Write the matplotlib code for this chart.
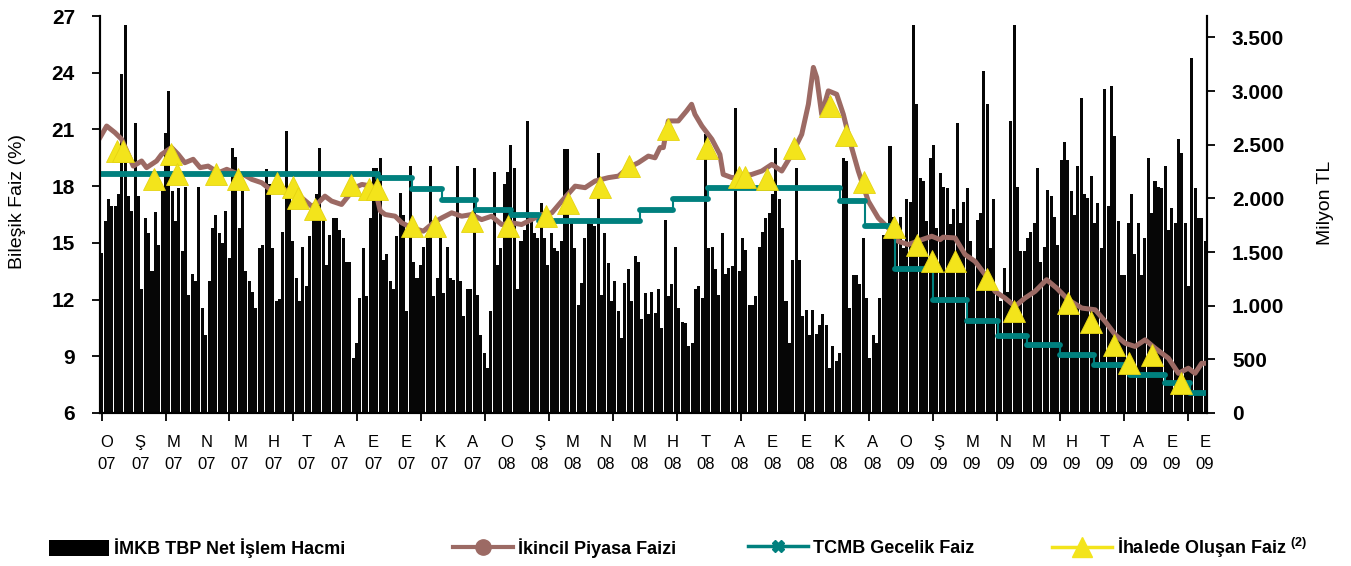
import numpy as np
import matplotlib
matplotlib.use('Agg')
from matplotlib import pyplot as plt
from matplotlib.lines import Line2D
from matplotlib.patches import Patch

FONT = ['Liberation Sans', 'DejaVu Sans']
plt.rcParams['font.family'] = FONT
plt.rcParams['mathtext.fontset'] = 'custom'
plt.rcParams['mathtext.rm'] = 'Liberation Sans:bold'

# x values are months counted from the start of January 2007
month_letters = ['O', 'Ş', 'M', 'N', 'M', 'H', 'T', 'A', 'E', 'E', 'K', 'A']
years = ['07', '08', '09']
n_month_labels = 34

# IMKB TBP net trading volume (million TL), read left to right
vol_jan_sep07 = [1490, 1790, 1990, 1930, 1930, 2040, 3160, 3620, 2020, 1880, 2700, 2020,
                 1160, 1820, 1680, 1320, 1870, 1570, 2070, 2610, 3000, 2070, 1790, 2100,
                 1510, 2110, 1100, 1300, 1230, 2110, 980, 730, 1230, 1720, 1850, 1680,
                 1580, 1880, 1440, 2470, 2390, 1720, 2070, 1320, 1230, 1130, 980, 1540,
                 1570, 2270, 2130, 1540, 1040, 1060, 1690, 2630, 2040, 1600, 1260, 1040,
                 1550, 1180, 1650, 1850, 2040, 2470, 1800, 1380, 1660, 1820, 1820, 1710,
                 1630, 1410, 1410, 510, 650, 1070, 1540, 1090, 1820, 2280]
vol_sep07_jun08 = [2280, 2380, 1430, 1480, 1230, 1160, 1650, 2050, 1850, 950, 2300, 1410,
                   1260, 1380, 1550, 1630, 2300, 1090, 1260, 1630, 1120, 1550, 1260, 1240,
                   2300, 1230, 900, 1160, 1160, 2280, 1100, 730, 560, 420, 950, 2250,
                   1380, 1540, 2130, 2250, 2500, 2280, 1160, 1600, 1710, 2720, 1790, 1680,
                   1630, 1960, 1630, 1380, 1680, 1540, 1510, 1600, 2460, 2460, 1790, 1540,
                   1010, 1210, 1630, 1790, 1760, 1740, 2420, 1100, 1680, 1400, 1040, 1230,
                   950, 700, 1210, 1340, 1040, 1460, 1410, 880, 1120, 920, 1130, 930]
vol_jun08_feb09 = [1160, 790, 1800, 1090, 1200, 1550, 980, 850, 840, 620, 650, 1160,
                   1180, 1070, 2600, 1540, 1550, 1340, 1100, 1680, 1300, 1350, 1370, 2840,
                   1320, 1630, 1520, 1010, 1010, 1090, 1550, 1690, 1820, 1860, 2040, 2470,
                   1990, 1720, 1040, 650, 1430, 2280, 1430, 900, 960, 730, 960, 740,
                   820, 920, 820, 420, 620, 480, 560, 2380, 2350, 980, 1290, 1290,
                   1200, 1630, 1070, 510, 730, 650, 1070, 1660, 1650, 2490, 1830, 1720,
                   1830, 1540, 1990, 1970, 3620, 2880, 2190, 2160, 1790, 2380, 2500, 1720]
vol_feb09_oct09 = [2240, 2110, 2100, 1760, 1900, 2700, 1770, 1970, 2100, 1600, 1410, 1800,
                   1860, 3190, 2880, 1540, 1990, 1130, 1040, 1350, 1130, 2720, 3620, 2110,
                   1510, 1510, 1630, 1690, 1770, 2280, 1410, 1550, 2080, 2020, 1830, 1570,
                   2360, 2530, 2360, 2070, 1850, 2300, 2940, 2040, 2000, 2210, 1770, 1960,
                   1540, 3020, 1930, 3050, 2580, 1790, 1290, 1290, 1770, 2040, 1480, 1770,
                   1290, 1630, 2380, 1860, 2160, 2110, 2100, 2300, 1710, 1910, 1770, 2550,
                   2420, 1770, 1180, 3310, 2100, 1820, 1820, 1600]

# secondary market compound rate (%)
ikincil_month = [-0.21, -0.01, 0.24, 0.44, 0.64, 0.79, 1.04, 1.19, 1.49, 1.64, 1.94, 2.14,
                 2.34, 2.59, 2.80, 3.04, 3.35, 3.60, 3.85, 4.10, 4.35, 4.65, 4.90, 5.25,
                 5.55, 5.85, 6.15, 6.35, 6.55, 6.75, 7.05, 7.25, 7.45, 7.66, 7.96, 8.09,
                 8.21, 8.36, 8.66, 8.86, 9.16, 9.51, 9.81, 10.06, 10.36, 10.66, 10.96, 11.26,
                 11.56, 11.86, 12.16, 12.46, 12.76, 13.07, 13.37, 13.67, 14.07, 14.37, 14.67,
                 15.07, 15.37, 15.67, 15.97, 16.27, 16.47, 16.62, 16.72, 16.87, 17.17, 17.42,
                 17.57, 17.67, 17.88, 18.18, 18.42, 18.52, 18.78, 19.08, 19.38, 19.68, 19.98,
                 20.28, 20.58, 20.88, 21.08, 21.23, 21.33, 21.48, 21.68, 21.93, 22.13, 22.38,
                 22.58, 22.88, 23.18, 23.48, 23.78, 24.08, 24.49, 24.79, 25.04, 25.13, 25.49,
                 25.79, 26.09, 26.39, 26.69, 26.99, 27.29, 27.59, 27.89, 28.24, 28.54, 28.89,
                 29.30, 29.70, 30.00, 30.30, 30.60, 30.90, 31.20, 31.50, 31.90, 32.20, 32.50,
                 32.70, 32.90, 33.05]
ikincil_rate = [20.57, 21.18, 20.83, 20.48, 19.68, 19.06, 19.33, 18.98, 19.33, 19.68, 20.04, 19.68,
                19.24, 19.42, 18.98, 19.06, 18.71, 18.89, 18.71, 18.62, 18.36, 18.18, 17.83, 17.92,
                17.56, 17.39, 16.94, 17.12, 17.47, 17.21, 17.03, 17.47, 17.92, 18.09, 18.00, 17.60,
                16.70, 16.50, 16.41, 16.06, 15.79, 15.62, 16.06, 16.32, 16.59, 16.41, 16.50, 16.23,
                16.41, 15.97, 16.06, 15.97, 16.23, 16.50, 16.59, 17.21, 18.00, 17.92, 18.27,
                18.45, 18.53, 18.98, 19.24, 19.59, 19.50, 20.04, 20.04, 21.45, 21.45, 21.98,
                22.33, 21.80, 21.18, 20.48, 19.68, 18.62, 18.45, 18.53, 18.62, 18.80, 19.15,
                18.80, 19.68, 20.74, 22.33, 24.28, 23.75, 21.80, 23.04, 22.86, 21.80, 20.04,
                18.80, 17.21, 16.32, 15.79, 15.08, 14.91, 15.17, 15.35, 15.17, 15.30, 15.26,
                14.38, 14.02, 13.32, 12.43, 12.08, 11.64, 12.08, 12.43, 13.05, 12.61, 11.99,
                11.55, 11.46, 10.84, 10.14, 9.69, 9.52, 9.87, 9.43, 8.90, 8.10, 8.37,
                8.10, 8.63, 8.63]

# CBRT overnight rate (%), each level holds from its start month
tcmb_start = [-0.21, 8.15, 9.17, 10.07, 11.09, 12.14, 12.98, 16.02, 17.01, 18.06, 22.03,
              22.78, 23.69, 24.83, 25.85, 26.78, 27.65, 28.64, 29.67, 30.75, 31.80, 32.55]
tcmb_rate = [18.66, 18.41, 17.84, 17.28, 16.75, 16.45, 16.14, 16.73, 17.33, 17.88, 17.24,
             15.88, 13.64, 12.00, 10.88, 10.05, 9.61, 9.08, 8.55, 8.02, 7.58, 7.04]
tcmb_end = 33.03

# auction rates (%)
ihale_month = [0.29, 0.49, 1.42, 1.92, 2.10, 3.27, 3.95, 5.10, 5.58, 5.75, 6.25, 7.33, 7.88,
               8.11, 9.18, 9.86, 10.96, 12.04, 13.19, 13.87, 14.83, 15.70, 16.85, 18.03,
               18.98, 19.16, 19.85, 20.66, 21.73, 22.21, 22.76, 23.65, 24.34, 24.79, 25.49,
               26.44, 27.26, 28.88, 29.57, 30.25, 30.72, 31.40, 32.28]
ihale_rate = [19.86, 19.86, 18.36, 19.72, 18.66, 18.62, 18.36, 18.18, 17.95, 17.35, 16.77,
              18.08, 17.83, 17.83, 15.88, 15.88, 16.14, 15.88, 16.41, 17.12, 17.95, 19.06,
              21.01, 20.04, 18.50, 18.50, 18.36, 20.04, 22.24, 20.71, 18.22, 15.85, 14.91,
              14.06, 14.06, 13.11, 11.41, 11.82, 10.81, 9.61, 8.63, 9.08, 7.58]

BROWN = '#9C6A64'
TEAL = '#00807E'
YELLOW = '#F3E41B'
X_MIN, X_MAX = -0.21, 33.06

fig = plt.figure(figsize=(13.51, 5.66), dpi=100)
ax = fig.add_axes([100 / 1351, 1 - 413 / 566, 1107 / 1351, 397 / 566])
ax_vol = ax.twinx()
ax.set_zorder(ax_vol.get_zorder() + 1)
ax.patch.set_visible(False)

# volume bars on the right axis
volume = vol_jan_sep07 + vol_sep07_jun08 + vol_jun08_feb09 + vol_feb09_oct09
step = (X_MAX - X_MIN) / len(volume)
bar_x = np.linspace(X_MIN + step / 2, X_MAX - step / 2, len(volume))
ax_vol.bar(bar_x, volume, width=step * 0.9, color='#060606', linewidth=0)
ax_vol.set_ylim(0, 3700)
vol_ticks = list(range(0, 3501, 500))
ax_vol.set_yticks(vol_ticks)
ax_vol.set_yticklabels([f'{v:,}'.replace(',', '.') for v in vol_ticks],
                       fontsize=15, fontweight='bold')
ax_vol.tick_params(axis='y', direction='out', length=6, width=1.3, pad=12)

# rate lines on the left axis
ax.plot(ikincil_month, ikincil_rate, color=BROWN, lw=3.6, solid_joinstyle='round')
ax.step(tcmb_start + [tcmb_end], tcmb_rate + [tcmb_rate[-1]], where='post',
        color=TEAL, lw=1.5)
ax.hlines(tcmb_rate, tcmb_start, tcmb_start[1:] + [tcmb_end], color=TEAL, lw=4.2,
          capstyle='round')
ax.plot(ihale_month, ihale_rate, '^', ms=15.5, color=YELLOW, mec='#E5D412', mew=0.6,
        linestyle='none')

ax.set_xlim(X_MIN, X_MAX)
ax.set_ylim(6, 27)
ax.set_yticks(range(6, 28, 3))
ax.set_yticklabels([str(v) for v in range(6, 28, 3)], fontsize=15, fontweight='bold')
ax.tick_params(axis='y', direction='out', length=6, width=1.3, pad=12)

# tick marks every 40 trading days, month labels centred on month starts
ax.set_xticks(np.arange(18) * 1.921 - 0.16)
ax.set_xticklabels([])
ax.tick_params(axis='x', which='major', direction='out', length=6, width=1.3)
month_labels = [f'{m}\n{y}' for y in years for m in month_letters][:n_month_labels]
ax.set_xticks(np.arange(n_month_labels), minor=True)
ax.set_xticklabels(month_labels, minor=True, fontsize=12, linespacing=1.55)
ax.tick_params(axis='x', which='minor', length=0, pad=16)

for a in (ax, ax_vol):
    a.spines['top'].set_visible(False)
    for s in ('left', 'right', 'bottom'):
        a.spines[s].set_linewidth(1.5)

fig.text(18 / 1351, 1 - 201 / 566, 'Bileşik Faiz (%)', rotation=90, ha='center',
         va='center', fontsize=14)
fig.text(1325 / 1351, 1 - 203 / 566, 'Milyon TL', rotation=90, ha='center',
         va='center', fontsize=14)

# legend, one entry per block along the bottom
legend_items = [
    (Patch(facecolor='black'), 'İMKB TBP Net İşlem Hacmi', 40),
    (Line2D([], [], color=BROWN, lw=3, marker='o', ms=11), 'İkincil Piyasa Faizi', 444),
    (Line2D([], [], color=TEAL, lw=2.5, marker='X', ms=8), 'TCMB Gecelik Faiz', 739),
    (Line2D([], [], color=YELLOW, lw=2.5, marker='^', ms=14), r'İhalede Oluşan Faiz $^{(2)}$', 1043),
]
for handle, text, x0 in legend_items:
    fig.legend([handle], [text], loc='center left',
               bbox_to_anchor=(x0 / 1351, 1 - 548 / 566), frameon=False,
               borderpad=0, handlelength=3.3, handleheight=1.0,
               handletextpad=0.3, prop={'size': 13, 'weight': 'bold'})

fig.savefig('out.png', dpi=100)
